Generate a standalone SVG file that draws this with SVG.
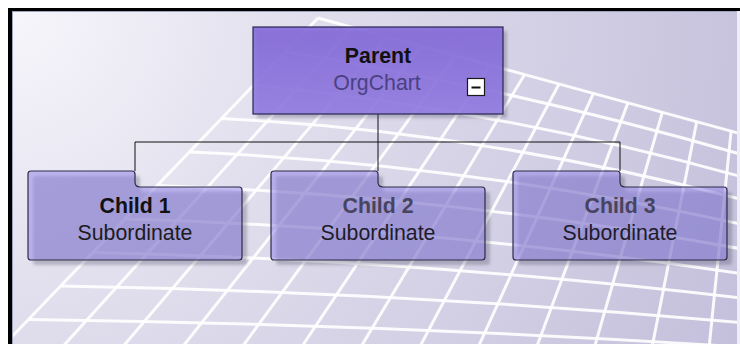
<svg xmlns="http://www.w3.org/2000/svg" width="740" height="344" viewBox="0 0 740 344">
<defs>
  <radialGradient id="bg" gradientUnits="userSpaceOnUse" cx="12" cy="11" r="800">
    <stop offset="0" stop-color="#f7f6fb"/>
    <stop offset="0.4" stop-color="#dfdcec"/>
    <stop offset="1" stop-color="#c4bfdb"/>
  </radialGradient>
  <linearGradient id="pg" x1="0" y1="0" x2="0" y2="1">
    <stop offset="0" stop-color="#8369d9"/>
    <stop offset="1" stop-color="#937de3"/>
  </linearGradient>
  <clipPath id="frame"><rect x="12" y="11" width="725" height="333"/></clipPath>
  <filter id="blur" x="-10%" y="-10%" width="120%" height="130%"><feGaussianBlur stdDeviation="1.5"/></filter>
  <path id="child" d="M3,0 H104 Q107,0 107,3 V11 Q107,16 112,16 H211 Q214,16 214,19 V86 Q214,89 211,89 H3 Q0,89 0,86 V3 Q0,0 3,0 Z"/>
</defs>
<style>
  .grid path { fill: none; stroke: #ffffff; stroke-width: 3; stroke-opacity: 0.9; }
  .conn { fill: none; stroke: #111111; stroke-width: 1; }
  .shadow { fill: #4a4860; fill-opacity: 0.3; filter: url(#blur); }
  .cbox { fill: #9486e8; fill-opacity: 0.55; stroke: #2e2a48; stroke-width: 1.2; }
  .t { font-family: "Liberation Sans", Arial, sans-serif; font-size: 21.3px; text-anchor: middle; }
  .b { font-weight: bold; }
</style>

<rect x="0" y="0" width="740" height="344" fill="#ffffff"/>
<rect x="12" y="11" width="725" height="333" fill="url(#bg)"/>

<g class="grid" clip-path="url(#frame)">
  <path d="M318,18 L-68,420"/>
  <path d="M352.4,27.4 L-3.9,420"/>
  <path d="M386.9,36.9 L60.3,420"/>
  <path d="M421.3,46.3 L124.4,420"/>
  <path d="M455.7,55.7 L188.6,420"/>
  <path d="M490.2,65.2 L252.7,420"/>
  <path d="M524.6,74.6 L316.9,420"/>
  <path d="M559,84 L381,420"/>
  <path d="M593.4,93.4 L445.1,420"/>
  <path d="M627.9,102.9 L509.3,420"/>
  <path d="M662.3,112.3 L573.4,420"/>
  <path d="M696.7,121.7 L637.6,420"/>
  <path d="M731.1,131.1 L701.7,420"/>
  <path d="M765.6,140.6 L765.9,420"/>
  <path d="M318,18 L800,150"/>
  <path d="M285.8,51.5 Q544.2,93.9 802.5,172.5"/>
  <path d="M253.7,85 Q529.4,112.5 805,195"/>
  <path d="M221.5,118.5 Q514.5,133.4 807.5,217.5"/>
  <path d="M189.3,152 Q499.7,165.2 810,240"/>
  <path d="M157.2,185.5 Q484.9,197.1 812.5,262.5"/>
  <path d="M125,219 Q470,228.9 815,285"/>
  <path d="M92.8,252.5 Q455.2,260.8 817.5,307.5"/>
  <path d="M60.7,286 Q440.4,292.6 820,330"/>
  <path d="M28.5,319.5 Q425.5,324.5 822.5,352.5"/>
  <path d="M-3.7,353 Q410.7,356.3 825,375"/>
</g>

<rect x="8" y="8" width="732" height="3" fill="#000000"/>
<rect x="8" y="8" width="4" height="336" fill="#000000"/>
<line x1="12.5" y1="11" x2="12.5" y2="344" stroke="#9da3bd" stroke-width="1"/>
<line x1="12" y1="11.5" x2="737" y2="11.5" stroke="#9da3bd" stroke-width="1"/>
<rect x="737" y="11" width="3" height="333" fill="#eeeef4"/>

<g id="connectors">
  <path class="conn" d="M378,114 V142 M135,142 H620 M135,142 V171 M378,142 V171 M620,142 V171"/>
</g>

<g id="parent">
  <rect x="257" y="31" width="250" height="87" class="shadow"/>
  <rect x="253" y="27" width="250" height="87" fill="url(#pg)" fill-opacity="0.9" stroke="#2a2550" stroke-width="1.2"/>
  <text class="t b" x="378" y="63" fill="#111111">Parent</text>
  <text class="t" x="377" y="90" fill="#4b4182">OrgChart</text>
  <rect x="467.5" y="78.5" width="17" height="17" fill="#ffffff" stroke="#1a1a1a" stroke-width="1.2"/>
  <line x1="471.5" y1="87.5" x2="480.5" y2="87.5" stroke="#111111" stroke-width="2"/>
</g>

<g id="child1">
  <use href="#child" x="33" y="176" class="shadow"/>
  <use href="#child" x="28" y="171" class="cbox"/>
  <text class="t b" x="135" y="213" fill="#111111">Child 1</text>
  <text class="t" x="135" y="240" fill="#1c1c1c">Subordinate</text>
</g>

<g id="child2">
  <use href="#child" x="276" y="176" class="shadow"/>
  <use href="#child" x="271" y="171" class="cbox"/>
  <text class="t b" x="378" y="213" fill="#47445f">Child 2</text>
  <text class="t" x="378" y="240" fill="#1e1c2c">Subordinate</text>
</g>

<g id="child3">
  <use href="#child" x="518" y="176" class="shadow"/>
  <use href="#child" x="513" y="171" class="cbox"/>
  <text class="t b" x="620" y="213" fill="#47445f">Child 3</text>
  <text class="t" x="620" y="240" fill="#1e1c2c">Subordinate</text>
</g>
</svg>
